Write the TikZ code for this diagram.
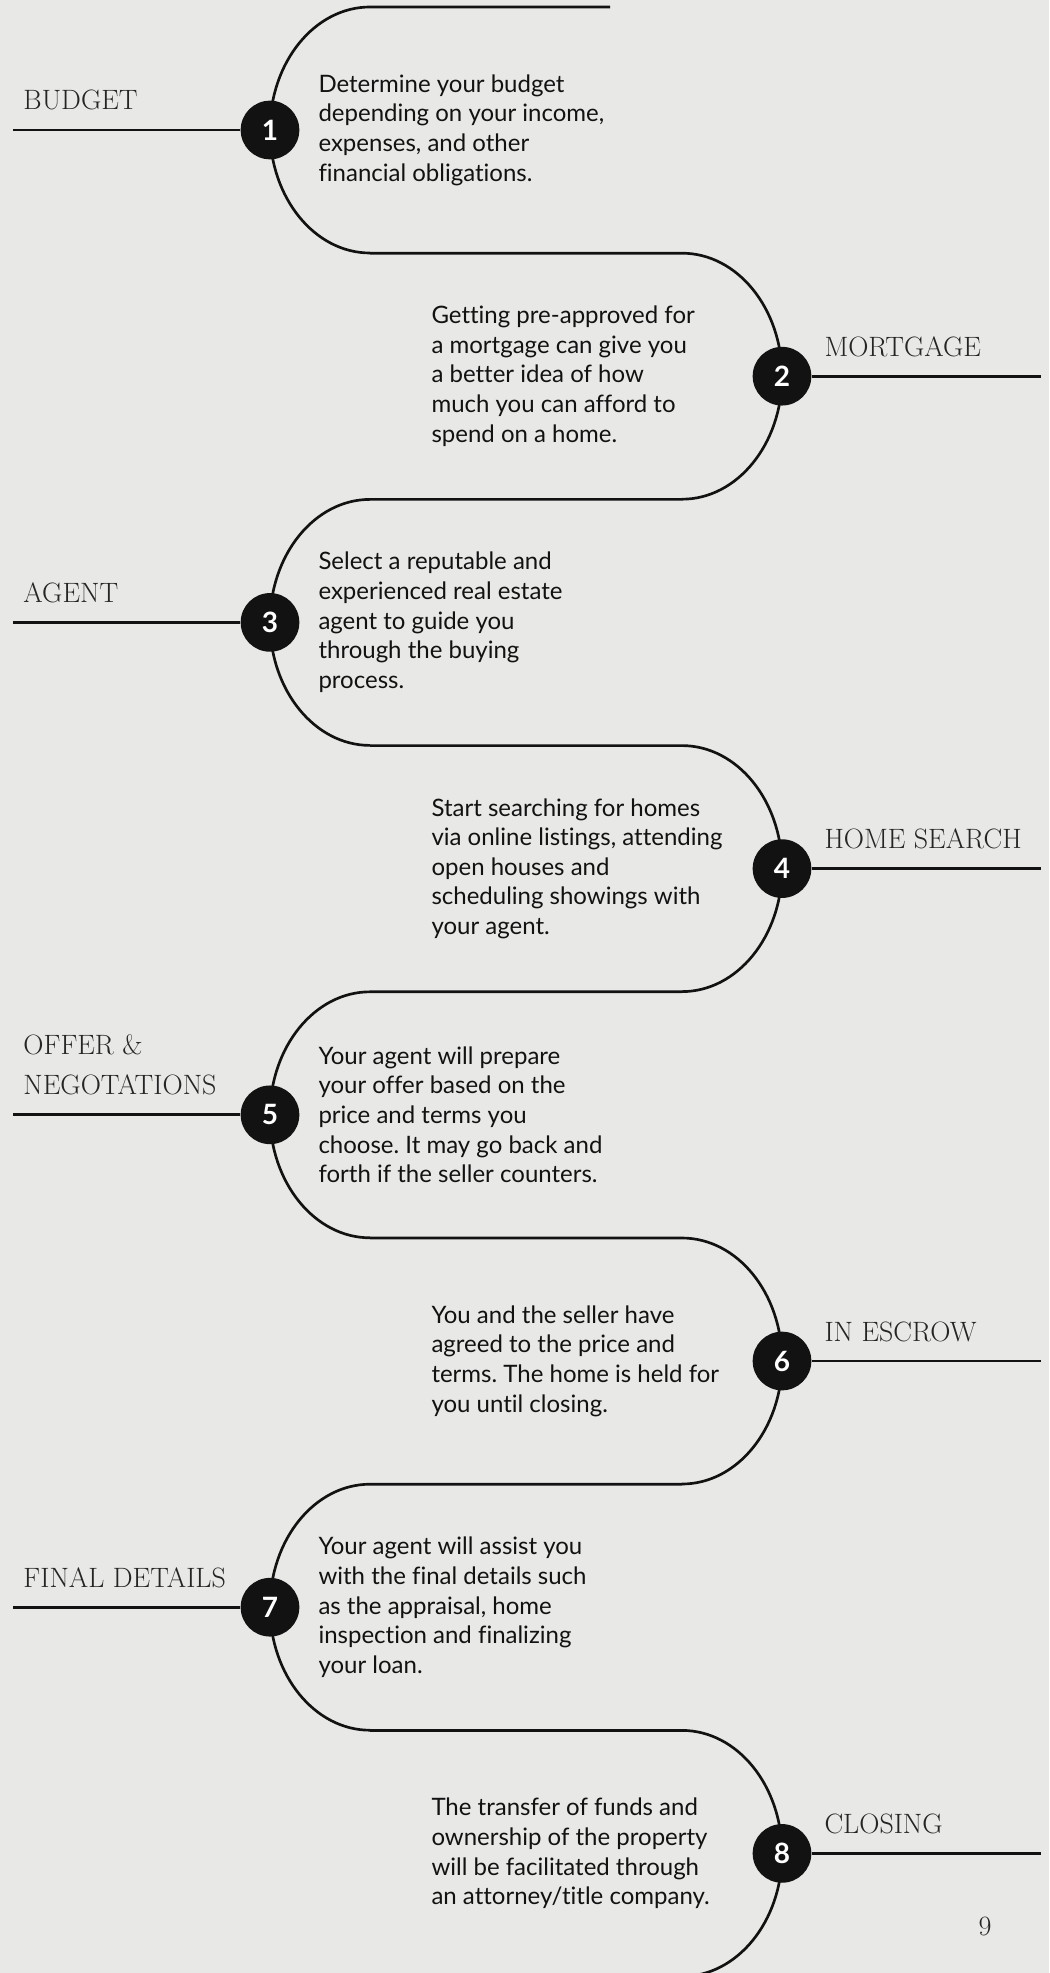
\documentclass[tikz,border=0pt]{standalone}
\usepackage{fontspec}
\newfontfamily\bodyfont{Lato}[Ligatures=NoCommon]
\frenchspacing

\definecolor{paper}{RGB}{232,232,231}
\definecolor{ink}{RGB}{18,18,18}

\tikzset{every picture/.style={line width=0.75pt}}
\tikzset{
  road/.style={draw=ink, line width=2pt},
  stepdot/.style={circle, fill=ink, minimum size=44pt, inner sep=0pt, text=white, font=\bodyfont\bfseries\fontsize{21}{21}\selectfont},
  steptitle/.style={anchor=base west, inner sep=0pt, align=left, text=ink!92, font=\fontsize{21}{30}\selectfont},
  stepnote/.style={anchor=west, inner sep=0pt, align=left, text=ink, font=\bodyfont\fontsize{18}{22.2}\selectfont}
}

\begin{document}
\begin{tikzpicture}[x=0.75pt,y=0.75pt,yscale=-1,xscale=1]
	\useasboundingbox (0,0) rectangle (1049,1973);
	\clip (0,0) rectangle (1049,1973);
	\fill[paper] (0,0) rectangle (1049,1973);

	%Shape: Road [id:left 1]
	\draw [road] (610,7) -- (370,7) arc[start angle=270, end angle=90, x radius=100, y radius=123];
	%Shape: Road [id:right 2]
	\draw [road] (370,253.2) -- (682,253.2) arc[start angle=-90, end angle=90, x radius=100, y radius=123];
	%Shape: Road [id:left 3]
	\draw [road] (682,499.4) -- (370,499.4) arc[start angle=270, end angle=90, x radius=100, y radius=123];
	%Shape: Road [id:right 4]
	\draw [road] (370,745.6) -- (682,745.6) arc[start angle=-90, end angle=90, x radius=100, y radius=123];
	%Shape: Road [id:left 5]
	\draw [road] (682,991.8) -- (370,991.8) arc[start angle=270, end angle=90, x radius=100, y radius=123];
	%Shape: Road [id:right 6]
	\draw [road] (370,1238) -- (682,1238) arc[start angle=-90, end angle=90, x radius=100, y radius=123];
	%Shape: Road [id:left 7]
	\draw [road] (682,1484.2) -- (370,1484.2) arc[start angle=270, end angle=90, x radius=100, y radius=123];
	%Shape: Road [id:right 8]
	\draw [road] (370,1730.4) -- (682,1730.4) arc[start angle=-90, end angle=90, x radius=100, y radius=123];

	% Step Circles
	\node [stepdot] (s1) at (270,130) {1};
	\node [stepdot] (s2) at (782,376.2) {2};
	\node [stepdot] (s3) at (270,622.4) {3};
	\node [stepdot] (s4) at (782,868.6) {4};
	\node [stepdot] (s5) at (270,1114.8) {5};
	\node [stepdot] (s6) at (782,1361) {6};
	\node [stepdot] (s7) at (270,1607.2) {7};
	\node [stepdot] (s8) at (782,1853.4) {8};

	% Line Ends
	\coordinate (e1) at (13,130);
	\coordinate (e2) at (1041,376.2);
	\coordinate (e3) at (13,622.4);
	\coordinate (e4) at (1041,868.6);
	\coordinate (e5) at (13,1114.8);
	\coordinate (e6) at (1041,1361);
	\coordinate (e7) at (13,1607.2);
	\coordinate (e8) at (1041,1853.4);

	%Straight Lines
	\draw [road] (e1) -- (s1);
	\draw [road] (s2) -- (e2);
	\draw [road] (e3) -- (s3);
	\draw [road] (s4) -- (e4);
	\draw [road] (e5) -- (s5);
	\draw [road] (s6) -- (e6);
	\draw [road] (e7) -- (s7);
	\draw [road] (s8) -- (e8);

	% Text Node
	\node [steptitle] (t1) at (23,110) {BUDGET};
	% Text Node
	\node [steptitle] (t2) at (824,356.2) {MORTGAGE};
	% Text Node
	\node [steptitle] (t3) at (23,602.4) {AGENT};
	% Text Node
	\node [steptitle] (t4) at (824,848.6) {HOME SEARCH};
	% Text Node
	\node [steptitle] (t5) at (23,1094.8) {OFFER \&\\NEGOTATIONS};
	% Text Node
	\node [steptitle] (t6) at (824,1341) {IN ESCROW};
	% Text Node
	\node [steptitle] (t7) at (23,1587.2) {FINAL DETAILS};
	% Text Node
	\node [steptitle] (t8) at (824,1833.4) {CLOSING};

	% Text Node
	\node [stepnote] (d1) at (318,130) {Determine your budget\\depending on your income,\\expenses, and other\\financial obligations.};
	% Text Node
	\node [stepnote] (d2) at (431,376.2) {Getting pre-approved for\\a mortgage can give you\\a better idea of how\\much you can afford to\\spend on a home.};
	% Text Node
	\node [stepnote] (d3) at (318,622.4) {Select a reputable and\\experienced real estate\\agent to guide you\\through the buying\\process.};
	% Text Node
	\node [stepnote] (d4) at (431,868.6) {Start searching for homes\\via online listings, attending\\open houses and\\scheduling showings with\\your agent.};
	% Text Node
	\node [stepnote] (d5) at (318,1114.8) {Your agent will prepare\\your offer based on the\\price and terms you\\choose. It may go back and\\forth if the seller counters.};
	% Text Node
	\node [stepnote] (d6) at (431,1361) {You and the seller have\\agreed to the price and\\terms. The home is held for\\you until closing.};
	% Text Node
	\node [stepnote] (d7) at (318,1607.2) {Your agent will assist you\\with the final details such\\as the appraisal, home\\inspection and finalizing\\your loan.};
	% Text Node
	\node [stepnote] (d8) at (431,1853.4) {The transfer of funds and\\ownership of the property\\will be facilitated through\\an attorney/title company.};

	% Text Node
	\node [text=ink!92, font=\fontsize{21}{24}\selectfont] (page) at (985,1926) {9};

\end{tikzpicture}
\end{document}
